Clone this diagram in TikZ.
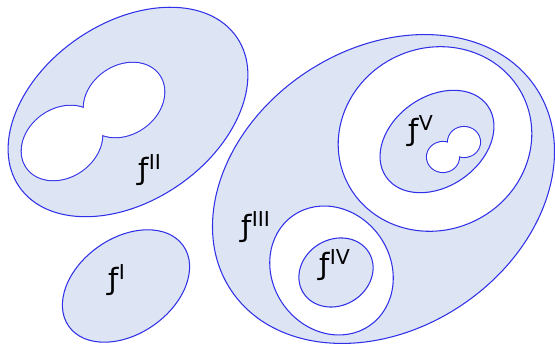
\documentclass[tikz,border=0pt]{standalone}
\usepackage{fontspec}
\setmainfont{DejaVu Sans}
\usepackage{tikz}
\definecolor{FaceBlue}{RGB}{221,228,244}
\definecolor{EdgeBlue}{RGB}{48,48,232}
\newcommand{\flab}[1]{ƒ\textsuperscript{#1}}

\begin{document}
\begin{tikzpicture}[
  x=0.03cm, y=0.03cm,
  face/.style={fill=FaceBlue, draw=EdgeBlue, line width=0.9pt},
  hole/.style={fill=white, draw=EdgeBlue, line width=0.9pt},
  rim/.style={draw=EdgeBlue, line width=1.8pt},
  label/.style={font=\fontsize{25}{30}\selectfont, inner sep=0pt}
]
  \useasboundingbox (0,0) rectangle (555,345);

  % Face II with its two-lobed hole
  \draw[face, rotate around={34.5:(128,233)}] (128,233) ellipse [x radius=132, y radius=89];
  \draw[rim, rotate around={35:(124,245)}] (124,245) ellipse [x radius=43, y radius=34];
  \draw[rim, rotate around={35:(62,202)}] (62,202) ellipse [x radius=43, y radius=34];
  \fill[white, rotate around={35:(124,245)}] (124,245) ellipse [x radius=43, y radius=34];
  \fill[white, rotate around={35:(62,202)}] (62,202) ellipse [x radius=43, y radius=34];

  % Face I
  \draw[face, rotate around={35:(126,59)}] (126,59) ellipse [x radius=70, y radius=48];

  % Face III and the rings inside it
  \draw[face, rotate around={33.6:(383.5,156)}] (383.5,156) ellipse [x radius=183, y radius=140];
  \draw[hole, rotate around={25:(435,206)}] (435,206) ellipse [x radius=98, y radius=91];
  \draw[face, rotate around={35:(437,203.5)}] (437,203.5) ellipse [x radius=62, y radius=45];
  \draw[rim] (464,203) ellipse [x radius=16, y radius=15];
  \draw[rim] (443,188) ellipse [x radius=16, y radius=15];
  \fill[white] (464,203) ellipse [x radius=16, y radius=15];
  \fill[white] (443,188) ellipse [x radius=16, y radius=15];
  \draw[hole, rotate around={-55:(331.5,74.5)}] (331.5,74.5) ellipse [x radius=67, y radius=59];
  \draw[face, rotate around={31:(336,72.5)}] (336,72.5) ellipse [x radius=38.5, y radius=33];

  % Labels
  \node[label] (lblI) at (117,65) {\flab{I}};
  \node[label] (lblII) at (150,175) {\flab{II}};
  \node[label] (lblIII) at (256,118) {\flab{III}};
  \node[label] (lblIV) at (335,80) {\flab{IV}};
  \node[label] (lblV) at (421,214) {\flab{V}};
\end{tikzpicture}
\end{document}
